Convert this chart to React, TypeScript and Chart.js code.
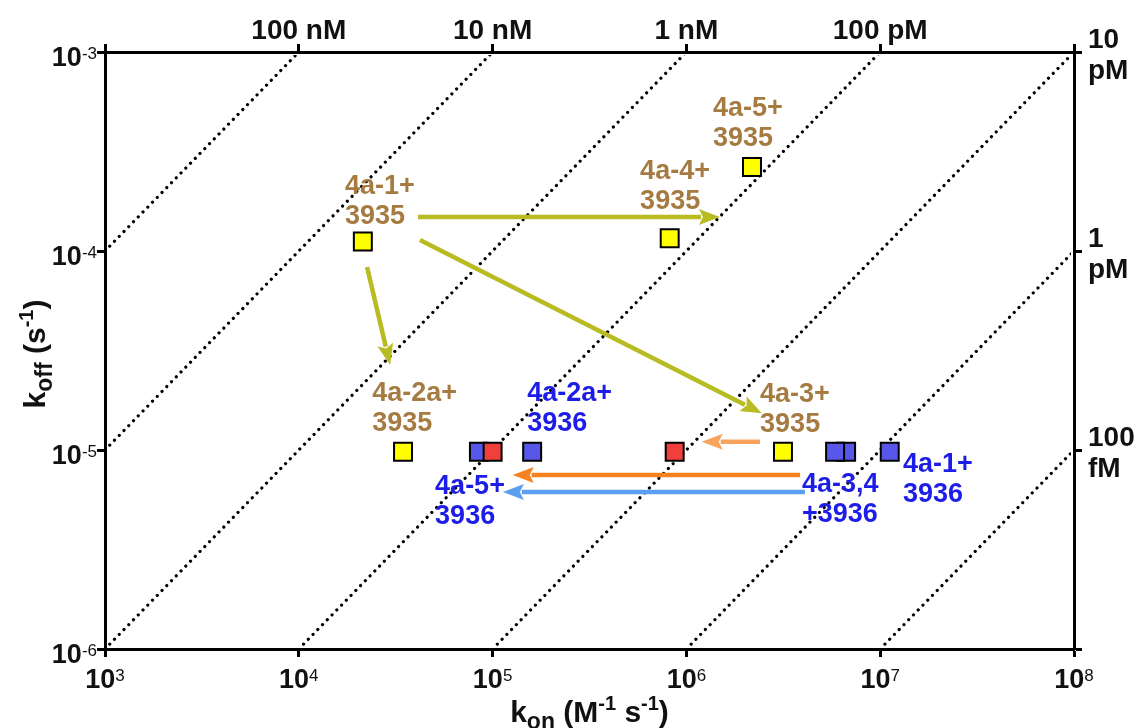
import React, { useEffect, useRef } from 'react';
import { Chart, registerables } from 'chart.js';

Chart.register(...registerables);

// ---------- data ----------
const X_EXPONENTS = [3, 4, 5, 6, 7, 8];
const Y_EXPONENTS = [-3, -4, -5, -6];
const TOP_LABELS = ['100 nM', '10 nM', '1 nM', '100 pM'];
const TOP_LABEL_KON = [1e4, 1e5, 1e6, 1e7];
const RIGHT_LABELS = [['10', 'pM'], ['1', 'pM'], ['100', 'fM']];
const RIGHT_LABEL_KOFF = [1e-3, 1e-4, 1e-5];
const KD_LINES = [1e-13, 1e-12, 1e-11, 1e-10, 1e-9, 1e-8, 1e-7];

const yellowKon = [2.14e4, 3.45e4, 8.2e5, 2.18e6, 3.15e6];
const yellowKoff = [1.117e-4, 9.8e-6, 1.16e-4, 2.64e-4, 9.8e-6];
const blueKon = [8.5e4, 1.6e5, 6.67e6, 5.85e6, 1.12e7];
const blueKoff = [9.8e-6, 9.8e-6, 9.8e-6, 9.8e-6, 9.8e-6];
const redKon = [1.0e5, 8.7e5];
const redKoff = [9.8e-6, 9.8e-6];

const arrowFromKon = [4.12e4, 4.22e4, 2.25e4, 2.4e6, 3.86e6, 4.09e6];
const arrowFromKoff = [1.48e-4, 1.135e-4, 8.3e-5, 1.1e-5, 7.48e-6, 6.15e-6];
const arrowToKon = [1.49e6, 2.45e6, 2.96e4, 1.2e6, 1.27e5, 1.13e5];
const arrowToKoff = [1.48e-4, 1.53e-5, 2.67e-5, 1.1e-5, 7.48e-6, 6.15e-6];
const arrowColors = ['#b9bb22', '#b9bb22', '#b9bb22', '#f9a45e', '#f5821f', '#5c9ff0'];

const BROWN_LABELS = [['4a-1+', '3935'], ['4a-4+', '3935'], ['4a-5+', '3935'], ['4a-2a+', '3935'], ['4a-3+', '3935']];
const BROWN_LABEL_KON = [1.73e4, 5.77e5, 1.37e6, 2.39e4, 2.4e6];
const BROWN_LABEL_KOFF = [1.93e-4, 2.3e-4, 4.76e-4, 1.76e-5, 1.74e-5];
const BLUE_LABELS = [['4a-2a+', '3936'], ['4a-5+', '3936'], ['4a-3,4', '+3936'], ['4a-1+', '3936']];
const BLUE_LABEL_KON = [1.51e5, 5.05e4, 3.95e6, 1.31e7];
const BLUE_LABEL_KOFF = [1.76e-5, 6.01e-6, 6.15e-6, 7.75e-6];

// ---------- style ----------
const FONT = '"Liberation Sans", Arial, Helvetica, sans-serif';
const BROWN = '#a67b41';
const BLUE_TEXT = '#1d1de8';

type Run = { t: string; size: number; bold?: boolean; dy?: number };

function setFont(ctx: CanvasRenderingContext2D, r: Run) {
  ctx.font = `${r.bold === false ? '' : 'bold '}${r.size}px ${FONT}`;
}
function runsWidth(ctx: CanvasRenderingContext2D, runs: Run[]) {
  let w = 0;
  for (const r of runs) {
    setFont(ctx, r);
    w += ctx.measureText(r.t).width;
  }
  return w;
}
function drawRuns(ctx: CanvasRenderingContext2D, runs: Run[], x: number, y: number) {
  let cx = x;
  for (const r of runs) {
    setFont(ctx, r);
    ctx.fillText(r.t, cx, y + (r.dy || 0));
    cx += ctx.measureText(r.t).width;
  }
}
function powRuns(exp: number): Run[] {
  return [
    { t: '10', size: 27, bold: true },
    { t: String(exp), size: 17, bold: false, dy: -7.5 },
  ];
}

function arrow(ctx: CanvasRenderingContext2D, x1: number, y1: number, x2: number, y2: number, color: string) {
  const headLen = 21;
  const headW = 16;
  const ang = Math.atan2(y2 - y1, x2 - x1);
  const c = Math.cos(ang);
  const s = Math.sin(ang);
  const bx = x2 - headLen * c;
  const by = y2 - headLen * s;
  ctx.strokeStyle = color;
  ctx.fillStyle = color;
  ctx.lineWidth = 4.5;
  ctx.lineCap = 'butt';
  ctx.beginPath();
  ctx.moveTo(x1, y1);
  ctx.lineTo(bx + 2 * c, by + 2 * s);
  ctx.stroke();
  ctx.beginPath();
  ctx.moveTo(x2, y2);
  ctx.lineTo(bx + (headW / 2) * s, by - (headW / 2) * c);
  ctx.lineTo(bx + 4 * c, by + 4 * s);
  ctx.lineTo(bx - (headW / 2) * s, by + (headW / 2) * c);
  ctx.closePath();
  ctx.fill();
}

const overlayPlugin = {
  id: 'overlay',
  afterDatasetsDraw(chart: any) {
    const ctx: CanvasRenderingContext2D = chart.ctx;
    const xs = chart.scales.x;
    const ys = chart.scales.y;
    ctx.save();
    for (let i = 0; i < arrowFromKon.length; i++) {
      arrow(
        ctx,
        xs.getPixelForValue(arrowFromKon[i]),
        ys.getPixelForValue(arrowFromKoff[i]),
        xs.getPixelForValue(arrowToKon[i]),
        ys.getPixelForValue(arrowToKoff[i]),
        arrowColors[i]
      );
    }
    ctx.restore();
  },
  afterDraw(chart: any) {
    const ctx: CanvasRenderingContext2D = chart.ctx;
    const xs = chart.scales.x;
    const ys = chart.scales.y;
    const area = chart.chartArea;
    ctx.save();
    ctx.textAlign = 'left';
    ctx.textBaseline = 'alphabetic';

    // point labels
    const labelSize = 27;
    const lineGap = 30;
    const drawLabels = (labels: string[][], kon: number[], koff: number[], color: string) => {
      ctx.fillStyle = color;
      ctx.font = `bold ${labelSize}px ${FONT}`;
      labels.forEach((lines, i) => {
        const px = xs.getPixelForValue(kon[i]);
        const py = ys.getPixelForValue(koff[i]);
        lines.forEach((ln, j) => ctx.fillText(ln, px, py + j * lineGap));
      });
    };
    drawLabels(BROWN_LABELS, BROWN_LABEL_KON, BROWN_LABEL_KOFF, BROWN);
    drawLabels(BLUE_LABELS, BLUE_LABEL_KON, BLUE_LABEL_KOFF, BLUE_TEXT);

    ctx.fillStyle = '#111';
    // bottom tick labels
    X_EXPONENTS.forEach((e) => {
      const runs = powRuns(e);
      const w = runsWidth(ctx, runs);
      const px = xs.getPixelForValue(Math.pow(10, e));
      drawRuns(ctx, runs, px - w / 2, area.bottom + 39);
    });
    // left tick labels
    Y_EXPONENTS.forEach((e) => {
      const runs = powRuns(e);
      const w = runsWidth(ctx, runs);
      const py = ys.getPixelForValue(Math.pow(10, e));
      drawRuns(ctx, runs, area.left - 8 - w, py + 14);
    });
    // top labels
    ctx.font = `bold 28px ${FONT}`;
    TOP_LABELS.forEach((t, i) => {
      const px = xs.getPixelForValue(TOP_LABEL_KON[i]);
      const w = ctx.measureText(t).width;
      ctx.fillText(t, px - w / 2, area.top - 13);
    });
    // right labels
    RIGHT_LABELS.forEach((lines, i) => {
      const py = ys.getPixelForValue(RIGHT_LABEL_KOFF[i]);
      lines.forEach((ln, j) => ctx.fillText(ln, area.right + 14, py - 4 + j * 31));
    });

    // x title
    const xt: Run[] = [
      { t: 'k', size: 30 },
      { t: 'on', size: 23, dy: 7 },
      { t: ' (M', size: 30 },
      { t: '-1', size: 20, dy: -12 },
      { t: ' s', size: 30 },
      { t: '-1', size: 20, dy: -12 },
      { t: ')', size: 30 },
    ];
    const xw = runsWidth(ctx, xt);
    drawRuns(ctx, xt, (area.left + area.right) / 2 - xw / 2, 722);

    // y title
    const yt: Run[] = [
      { t: 'k', size: 30 },
      { t: 'off', size: 23, dy: 7 },
      { t: ' (s', size: 30 },
      { t: '-1', size: 20, dy: -12 },
      { t: ')', size: 30 },
    ];
    const yw = runsWidth(ctx, yt);
    ctx.translate(45, 354);
    ctx.rotate(-Math.PI / 2);
    drawRuns(ctx, yt, -yw / 2, 0);
    ctx.restore();
  },
};

function kdSegment(kd: number) {
  const k1 = Math.max(1e3, 1e-6 / kd);
  const k2 = Math.min(1e8, 1e-3 / kd);
  return [
    { x: k1, y: kd * k1 },
    { x: k2, y: kd * k2 },
  ];
}

const axisGrid = {
  drawOnChartArea: false,
  drawTicks: true,
  tickLength: 8,
  tickWidth: 3,
  color: '#000',
};
const axisBorder = { display: true, width: 3, color: '#000' };
const decadeTicks = (exps: number[]) => (s: any) => {
  s.ticks = exps.map((e) => ({ value: Math.pow(10, e) }));
};

export default function App() {
  const ref = useRef<HTMLCanvasElement>(null);
  useEffect(() => {
    const canvas = ref.current!;
    const squares = (kon: number[], koff: number[], color: string, order: number, label: string) => ({
      label,
      data: kon.map((x, i) => ({ x, y: koff[i] })),
      pointStyle: 'rect',
      pointRadius: 12.7,
      pointHoverRadius: 12.7,
      backgroundColor: color,
      borderColor: '#000',
      borderWidth: 2,
      showLine: false,
      order,
    });
    const datasets: any[] = [
      squares(redKon, redKoff, '#f0403c', 0, 'red'),
      squares(blueKon, blueKoff, '#5757ea', 1, 'blue'),
      squares(yellowKon, yellowKoff, '#ffff00', 1, 'yellow'),
      ...KD_LINES.map((kd) => ({
        label: 'KD ' + kd,
        data: kdSegment(kd),
        showLine: true,
        borderColor: '#000',
        borderWidth: 3.2,
        borderDash: [0.01, 6.8],
        borderCapStyle: 'round',
        pointRadius: 0,
        pointHoverRadius: 0,
        fill: false,
        clip: -3,
        order: 5,
      })),
    ];
    const chart = new Chart(canvas, {
      type: 'scatter',
      data: { datasets },
      options: {
        animation: false,
        responsive: false,
        devicePixelRatio: 1,
        events: [],
        layout: { padding: 0 },
        plugins: { legend: { display: false }, tooltip: { enabled: false } },
        scales: {
          x: {
            type: 'logarithmic',
            position: 'bottom',
            min: 1e3,
            max: 1e8,
            afterBuildTicks: decadeTicks(X_EXPONENTS),
            afterFit: (s: any) => { s.height = 79; },
            ticks: { display: false },
            grid: axisGrid,
            border: axisBorder,
          },
          x2: {
            type: 'logarithmic',
            axis: 'x',
            position: 'top',
            min: 1e3,
            max: 1e8,
            afterBuildTicks: decadeTicks(X_EXPONENTS),
            afterFit: (s: any) => { s.height = 52; },
            ticks: { display: false },
            grid: axisGrid,
            border: axisBorder,
          },
          y: {
            type: 'logarithmic',
            position: 'left',
            min: 1e-6,
            max: 1e-3,
            afterBuildTicks: decadeTicks(Y_EXPONENTS),
            afterFit: (s: any) => { s.width = 105; },
            ticks: { display: false },
            grid: axisGrid,
            border: axisBorder,
          },
          y2: {
            type: 'logarithmic',
            axis: 'y',
            position: 'right',
            min: 1e-6,
            max: 1e-3,
            afterBuildTicks: decadeTicks(Y_EXPONENTS),
            afterFit: (s: any) => { s.width = 67; },
            ticks: { display: false },
            grid: axisGrid,
            border: axisBorder,
          },
        },
      } as any,
      plugins: [overlayPlugin],
    });
    return () => chart.destroy();
  }, []);
  return (
    <div style={{ position: 'fixed', left: 0, top: 0, width: 1141, height: 728, background: '#fff' }}>
      <canvas ref={ref} width={1141} height={728} style={{ display: 'block', width: 1141, height: 728 }} />
    </div>
  );
}
